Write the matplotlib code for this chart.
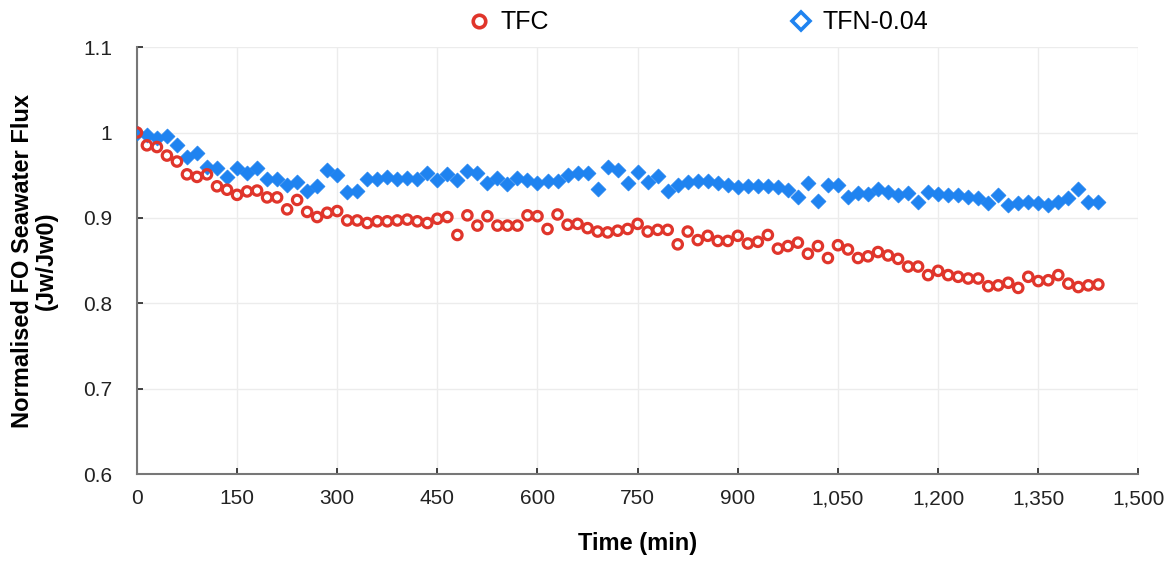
import matplotlib.pyplot as plt
from matplotlib.lines import Line2D

plt.rcParams['font.family'] = ['Liberation Sans', 'DejaVu Sans']

# time (min), one reading every 15 min
time_min = list(range(0, 1441, 15))

tfc = [1.000, 0.985, 0.983, 0.973, 0.966, 0.951, 0.948, 0.951, 0.937, 0.933,
       0.927, 0.931, 0.932, 0.924, 0.924, 0.910, 0.921, 0.907, 0.901, 0.906,
       0.908, 0.897, 0.897, 0.894, 0.896, 0.896, 0.897, 0.898, 0.896, 0.894,
       0.899, 0.901, 0.880, 0.903, 0.891, 0.902, 0.891, 0.891, 0.891, 0.903,
       0.902, 0.887, 0.904, 0.892, 0.893, 0.888, 0.884, 0.883, 0.885, 0.887,
       0.893, 0.884, 0.886, 0.886, 0.869, 0.884, 0.874, 0.879, 0.873, 0.873,
       0.879, 0.870, 0.872, 0.880, 0.864, 0.867, 0.871, 0.858, 0.867, 0.853,
       0.868, 0.863, 0.853, 0.855, 0.860, 0.856, 0.852, 0.843, 0.843, 0.833,
       0.838, 0.833, 0.831, 0.829, 0.829, 0.820, 0.821, 0.824, 0.818, 0.831,
       0.826, 0.827, 0.833, 0.823, 0.819, 0.821, 0.822]

tfn = [1.000, 0.997, 0.994, 0.996, 0.985, 0.971, 0.976, 0.960, 0.958, 0.948,
       0.958, 0.953, 0.958, 0.945, 0.946, 0.939, 0.942, 0.931, 0.937, 0.956,
       0.950, 0.930, 0.931, 0.945, 0.945, 0.948, 0.946, 0.947, 0.946, 0.953,
       0.944, 0.951, 0.944, 0.955, 0.953, 0.941, 0.947, 0.940, 0.947, 0.944,
       0.941, 0.943, 0.943, 0.950, 0.953, 0.952, 0.934, 0.960, 0.956, 0.941,
       0.954, 0.942, 0.949, 0.932, 0.939, 0.942, 0.943, 0.943, 0.941, 0.939,
       0.936, 0.937, 0.937, 0.937, 0.936, 0.933, 0.925, 0.941, 0.920, 0.938,
       0.938, 0.925, 0.929, 0.928, 0.934, 0.930, 0.927, 0.929, 0.919, 0.930,
       0.928, 0.927, 0.927, 0.925, 0.923, 0.918, 0.927, 0.915, 0.918, 0.919,
       0.917, 0.915, 0.919, 0.923, 0.934, 0.919, 0.919]

x_ticks = list(range(0, 1501, 150))
x_labels = ['{:,}'.format(v) for v in x_ticks]
y_ticks = [0.6, 0.7, 0.8, 0.9, 1.0, 1.1]
y_labels = ['0.6', '0.7', '0.8', '0.9', '1', '1.1']

red = '#e0352b'
blue = '#1f83f0'

fig = plt.figure(figsize=(11.7, 5.61), dpi=100)
ax = fig.add_axes([0.117, 0.155, 0.856, 0.761])

ax.scatter(time_min, tfn, marker='D', s=58, color=blue, edgecolors=blue,
           linewidths=0.5, zorder=3)
ax.scatter(time_min, tfc, marker='o', s=46, facecolors='none',
           edgecolors=red, linewidths=2.3, zorder=4)

ax.set_xlim(0, 1500)
ax.set_ylim(0.6, 1.1)
ax.set_xticks(x_ticks)
ax.set_xticklabels(x_labels)
ax.set_yticks(y_ticks)
ax.set_yticklabels(y_labels)
ax.tick_params(labelsize=15, colors='#222222', direction='in', length=4,
               width=1.2)
ax.tick_params(axis='x', pad=11)
ax.tick_params(axis='y', pad=18)
ax.grid(True, color='#ececec', linewidth=1)
ax.set_axisbelow(True)
for s in ['top', 'right']:
    ax.spines[s].set_visible(False)
for s in ['left', 'bottom']:
    ax.spines[s].set_color('#777777')
    ax.spines[s].set_linewidth(1.5)

ax.set_xlabel('Time (min)', fontsize=17, fontweight='bold', labelpad=17)
ax.set_ylabel('Normalised FO Seawater Flux\n(Jw/Jw0)', fontsize=17,
              fontweight='bold', labelpad=18, linespacing=1.05)

handles = [
    Line2D([], [], linestyle='none', marker='o', markersize=9,
           markerfacecolor='none', markeredgecolor=red, markeredgewidth=2.6),
    Line2D([], [], linestyle='none', marker='D', markersize=9,
           markerfacecolor='none', markeredgecolor=blue, markeredgewidth=2.6),
]
fig.legend(handles, ['TFC', 'TFN-0.04'], loc='center', ncol=2,
           bbox_to_anchor=(0.597, 0.96), frameon=False, fontsize=18,
           columnspacing=9.7, handlelength=0.8, handletextpad=0.45)

fig.savefig('out.png', dpi=100)
